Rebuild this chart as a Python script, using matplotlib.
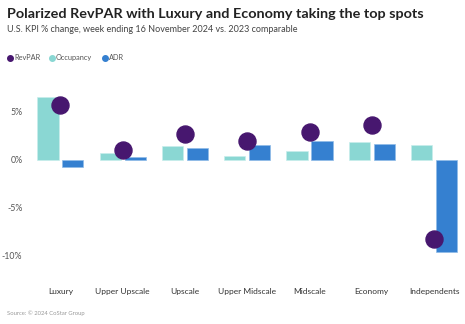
import numpy as np
import matplotlib.pyplot as plt
from matplotlib.lines import Line2D

categories = ['Luxury', 'Upper Upscale', 'Upscale', 'Upper Midscale', 'Midscale', 'Economy', 'Independents']
revpar = [5.7, 1.0, 2.7, 2.0, 2.95, 3.6, -8.2]
occupancy = [6.5, 0.7, 1.4, 0.45, 0.9, 1.9, 1.5]
adr = [-0.75, 0.25, 1.25, 1.5, 1.95, 1.6, -9.6]
yticks = [-10, -5, 0, 5]

c_rev = '#47176f'
c_occ = '#8ad7d3'
c_adr = '#3580d0'
font = 'Lato'

fig = plt.figure(figsize=(4.65, 3.24), dpi=100)
ax = fig.add_axes([28/465, 1 - 275/324, 436/465, 190/324])

x = np.arange(len(categories))
w = 0.34
ax.bar(x - 0.2, occupancy, w, color=c_occ, edgecolor='#c8eeec', linewidth=0.5, zorder=2)
ax.bar(x + 0.2, adr, w, color=c_adr, edgecolor='#8fbbe8', linewidth=0.5, zorder=2)
ax.scatter(x, revpar, s=150, color=c_rev, zorder=3)

ax.set_xlim(-0.52, 6.48)
ax.set_ylim(-12.0, 7.8)
ax.set_yticks(yticks)
ax.set_yticklabels([f'{v}%' for v in yticks], fontsize=6.3, color='#555555', family=font)
ax.set_xticks(x)
ax.set_xticklabels(categories, fontsize=6, color='#333333', family=font)
for lab in ax.get_xticklabels():
    lab.set_verticalalignment('baseline')
ax.tick_params(axis='both', length=0)
ax.tick_params(axis='x', pad=13.5)
ax.tick_params(axis='y', pad=4)
for s in ax.spines.values():
    s.set_visible(False)

fig.text(7/465, 1 - 14/324, 'Polarized RevPAR with Luxury and Economy taking the top spots',
         fontsize=10.4, fontweight='bold', color='#222222', family=font, va='center')
fig.text(7/465, 1 - 29/324, 'U.S. KPI % change, week ending 16 November 2024 vs. 2023 comparable',
         fontsize=6.5, color='#444444', family=font, va='center')

# legend row
lx = [10, 52, 105]
labels = ['RevPAR', 'Occupancy', 'ADR']
cols = [c_rev, c_occ, c_adr]
ly = 1 - 57.5/324
for px, lab, col in zip(lx, labels, cols):
    fig.add_artist(Line2D([px/465], [ly], marker='o', markersize=4, color=col,
                          linestyle='none', transform=fig.transFigure))
    fig.text((px + 4)/465, ly, lab, fontsize=5.3, color='#555555', va='center', family=font)

fig.text(7/465, 1 - 313/324, 'Source: \u00a9 2024 CoStar Group', fontsize=4.2, color='#999999',
         family=font, va='center')

fig.savefig('out.png', dpi=100)
